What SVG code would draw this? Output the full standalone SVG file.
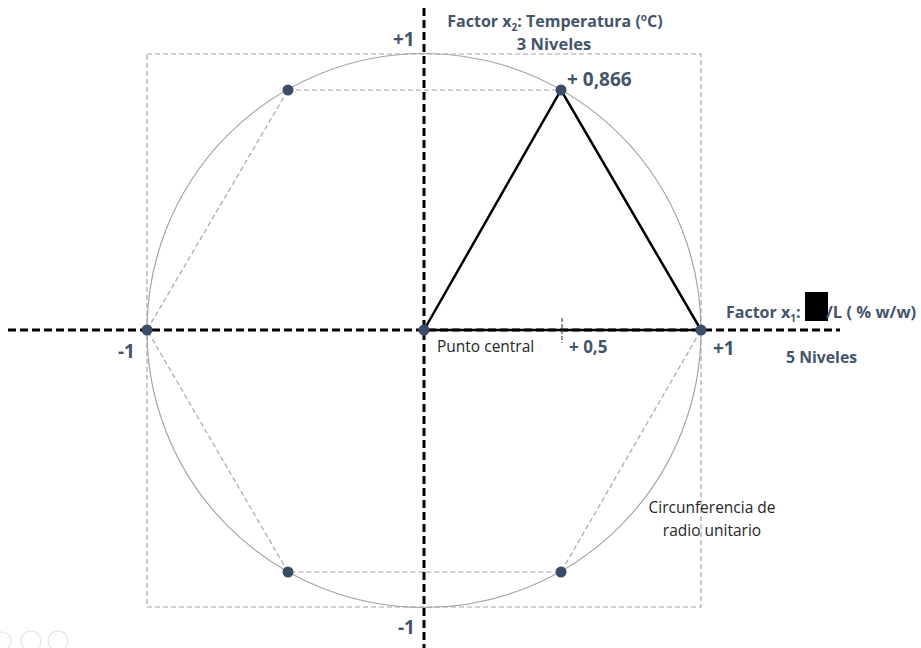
<svg xmlns="http://www.w3.org/2000/svg" width="921" height="648" viewBox="0 0 921 648">
<style>
.lbl{font-family:"Open Sans","Liberation Sans",sans-serif;font-weight:bold;fill:#44546A;}
.plain{font-family:"Open Sans","Liberation Sans",sans-serif;fill:#262626;}
.axis{stroke:#000;stroke-width:3;stroke-dasharray:8,4;fill:none;}
.guide{stroke:#a6a6a6;stroke-width:1.2;stroke-dasharray:5,3;fill:none;}
.pt{fill:#3B4C68;}
</style>
<rect width="921" height="648" fill="#fff"/>
<g id="frame">
<rect x="147" y="54" width="554" height="553" class="guide"/>
<circle cx="424" cy="330.5" r="277" fill="none" stroke="#a6a6a6" stroke-width="1.2"/>
</g>
<g id="connectors">
<polygon points="288,90 561,90 701,330 561,572 288,572 147,330" class="guide"/>
<line x1="8" y1="330" x2="840" y2="330" class="axis"/>
<line x1="424" y1="8" x2="424" y2="648" class="axis"/>
<polygon points="424,330 561,90 701,330" fill="none" stroke="#000" stroke-width="2.5" stroke-linejoin="miter"/>
<line x1="562" y1="318" x2="562" y2="343" stroke="#3B4C68" stroke-width="1.2" stroke-dasharray="4,2"/>
</g>
<g id="points">
<circle cx="424" cy="330" r="5.5" class="pt"/>
<circle cx="561" cy="90" r="5.5" class="pt"/>
<circle cx="288" cy="90" r="5.5" class="pt"/>
<circle cx="701" cy="330" r="5.5" class="pt"/>
<circle cx="147" cy="330" r="5.5" class="pt"/>
<circle cx="561" cy="572" r="5.5" class="pt"/>
<circle cx="288" cy="572" r="5.5" class="pt"/>
</g>
<g id="labels">
<text class="lbl" x="555" y="27" font-size="16" text-anchor="middle">Factor x<tspan font-size="10" dy="4">2</tspan><tspan dy="-4">: Temperatura (</tspan><tspan font-size="10" dy="-6">o</tspan><tspan dy="6">C)</tspan></text>
<text class="lbl" x="554" y="50" font-size="16.5" text-anchor="middle">3 Niveles</text>
<text class="lbl" x="393" y="46" font-size="19">+1</text>
<text class="lbl" x="567" y="86" font-size="19">+ 0,866</text>
<text class="lbl" x="726" y="318" font-size="16">Factor x<tspan font-size="10" dy="4">1</tspan><tspan dy="-4">: </tspan></text>
<rect x="805" y="292" width="23" height="29" fill="#000"/>
<text class="lbl" x="826" y="318" font-size="16.5">/L ( % w/w)</text>
<text class="lbl" x="713" y="355" font-size="19">+1</text>
<text class="lbl" x="786" y="363" font-size="15.8">5 Niveles</text>
<text class="lbl" x="118" y="358" font-size="19">-1</text>
<text class="lbl" x="398" y="634" font-size="19">-1</text>
<text class="plain" x="437" y="352" font-size="15.5">Punto central</text>
<text class="lbl" x="569" y="353" font-size="17">+ 0,5</text>
<text class="plain" x="712" y="513" font-size="15.5" text-anchor="middle">Circunferencia de</text>
<text class="plain" x="712" y="536" font-size="15.5" text-anchor="middle">radio unitario</text>
</g>
<g id="icons" fill="none" stroke="#e3e3e3" stroke-width="1.2">
<circle cx="2" cy="641" r="9"/>
<circle cx="31" cy="641" r="10"/>
<circle cx="58" cy="641" r="10"/>
</g>
</svg>
